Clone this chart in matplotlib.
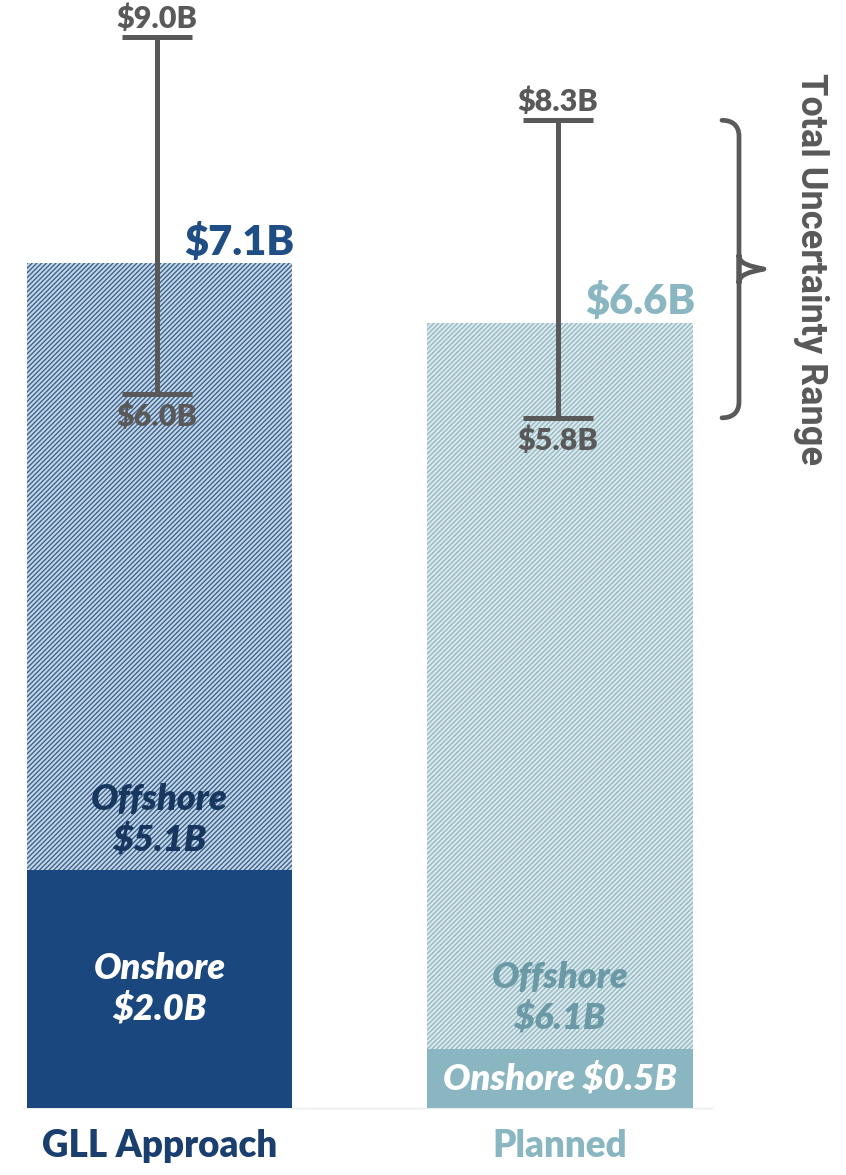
import matplotlib
matplotlib.use("Agg")
import matplotlib.pyplot as plt
from matplotlib.path import Path
from matplotlib.patches import PathPatch
from matplotlib.transforms import blended_transform_factory

plt.rcParams['hatch.linewidth'] = 1.0

# ---- data ----
categories = ["GLL Approach", "Planned"]
onshore = [2.0, 0.5]
offshore = [5.1, 6.1]
totals = [7.1, 6.6]
range_low = [6.0, 5.8]
range_high = [9.0, 8.3]
onshore_labels = ["Onshore\n$2.0B", "Onshore $0.5B"]
offshore_labels = ["Offshore\n$5.1B", "Offshore\n$6.1B"]
total_labels = ["$7.1B", "$6.6B"]
low_labels = ["$6.0B", "$5.8B"]
high_labels = ["$9.0B", "$8.3B"]
brace_label = "Total Uncertainty Range"

# ---- style ----
solid_colors = ["#1b477f", "#8ab6c1"]
hatch_face = ["#c8d7e7", "#dde9ed"]
hatch_edge = ["#3a6490", "#93bac4"]
total_colors = ["#1f4e85", "#8ab6c1"]
offshore_text = ["#17375f", "#6b9aa6"]
cat_colors = ["#1a3f6e", "#8ab6c1"]
gray = "#595959"
FONT = "Lato"
WT = "heavy"

fig = plt.figure(figsize=(8.46, 11.75), dpi=100)
ax = fig.add_axes([0, 0, 1, 1])
ax.set_xlim(-0.398, 1.714)
ax.set_ylim(-0.563, 9.311)
ax.axis("off")

x = list(range(len(categories)))
w = 0.662

# baseline
ax.plot([-0.34, 1.38], [0, 0], color="#ebebeb", lw=1.0, zorder=0)

ax.bar(x, onshore, width=w, color=solid_colors, edgecolor="none", zorder=2)
for i in x:
    ax.bar(i, offshore[i], bottom=onshore[i], width=w, color=hatch_face[i],
           edgecolor=hatch_edge[i], hatch="///////", linewidth=0, zorder=2)

# error bars (uncertainty range)
for i in x:
    ax.errorbar(i - 0.006, totals[i],
                yerr=[[totals[i] - range_low[i]], [range_high[i] - totals[i]]],
                fmt="none", ecolor=gray, elinewidth=3.6, capsize=25, capthick=3.6,
                zorder=4)
    ax.annotate(high_labels[i], (i - 0.006, range_high[i]), xytext=(0, 3),
                textcoords="offset points", ha="center", va="bottom",
                fontsize=22, fontweight=WT, color=gray, family=FONT, zorder=5)
    ax.annotate(low_labels[i], (i - 0.006, range_low[i]), xytext=(0, -6),
                textcoords="offset points", ha="center", va="top",
                fontsize=22, fontweight=WT, color=gray, family=FONT, zorder=5)

# total labels
for i in x:
    ax.annotate(total_labels[i], (i + 0.2, totals[i]), xytext=(0, 1),
                textcoords="offset points", ha="center", va="bottom",
                fontsize=30, fontweight=WT, color=total_colors[i],
                family=FONT, zorder=5)

# segment labels
for i in x:
    ax.text(i, onshore[i] / 2, onshore_labels[i], ha="center", va="center",
            fontsize=26, fontweight=WT, fontstyle="italic", color="white",
            family=FONT, linespacing=1.25, zorder=5)
    ax.annotate(offshore_labels[i], (i, onshore[i]), xytext=(0, 10),
                textcoords="offset points", ha="center", va="bottom",
                fontsize=26, fontweight=WT, fontstyle="italic",
                color=offshore_text[i], family=FONT, linespacing=1.25, zorder=5)

# category labels
for i in x:
    ax.annotate(categories[i], (i, 0), xytext=(0, -27), textcoords="offset points",
                ha="center", va="center", fontsize=26.5, fontweight=WT,
                color=cat_colors[i], family=FONT)

# brace spanning the planned uncertainty range
tr = blended_transform_factory(ax.transAxes, ax.transData)
W = 846.0
u = 1 / 119.0
yt, yb = range_high[1], range_low[1]
ym = (yt + yb) / 2
xl, xv, xt = 722 / W, 739 / W, 764 / W
verts = [
    (xl, yt), (731 / W, yt), (xv, yt - 4 * u), (xv, yt - 16 * u),
    (xv, ym - 14 * u),
    (xv, ym - 5 * u), (750 / W, ym - 3 * u), (xt, ym),
    (750 / W, ym + 3 * u), (xv, ym + 5 * u), (xv, ym + 14 * u),
    (xv, yb + 16 * u),
    (xv, yb + 4 * u), (731 / W, yb), (xl, yb),
]
codes = [Path.MOVETO, Path.CURVE4, Path.CURVE4, Path.CURVE4,
         Path.LINETO,
         Path.CURVE4, Path.CURVE4, Path.CURVE4,
         Path.CURVE4, Path.CURVE4, Path.CURVE4,
         Path.LINETO,
         Path.CURVE4, Path.CURVE4, Path.CURVE4]
ax.add_patch(PathPatch(Path(verts, codes), transform=tr, fill=False,
                       edgecolor=gray, lw=3.4, capstyle="round", joinstyle="round"))
ax.text(811 / W, ym, brace_label, transform=tr, rotation=-90,
        ha="center", va="center", fontsize=26, fontweight="bold",
        color=gray, family="Roboto")

fig.savefig("out.png", dpi=100)
